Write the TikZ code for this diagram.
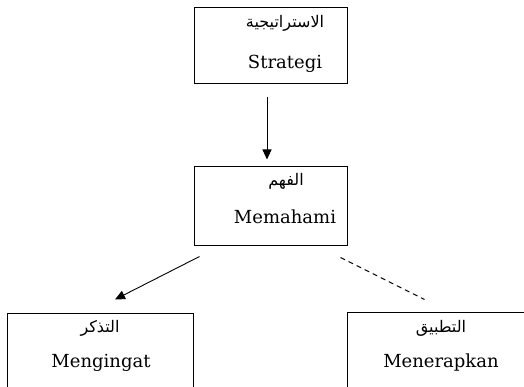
\documentclass[tikz,border=0pt]{standalone}
\usepackage{fontspec}
\setmainfont{DejaVu Serif}
\newfontfamily\arabicfont[Script=Arabic]{DejaVu Sans}
\TeXXeTstate=1
\usetikzlibrary{arrows.meta, positioning}

\begin{document}
\begin{tikzpicture}[x=1pt, y=-1pt,
		conceptbox/.style={draw, line width=1pt, inner sep=0pt},
		arlabel/.style={anchor=base, font=\fontsize{16}{18}\arabicfont},
		latlabel/.style={anchor=base, font=\fontsize{18}{21}\selectfont},
		arrow/.style={-{Triangle[length=10pt, width=9pt]}, line width=0.9pt},
		link/.style={line width=0.9pt, dash pattern=on 5pt off 4pt}
		]
		
		\useasboundingbox (0,0) rectangle (524,387);
		\clip (0,0) rectangle (524,387);
		
		% Boxes
		\node[conceptbox, minimum width=153pt, minimum height=76pt] (strategi) at (270.5, 46) {};
		\node[conceptbox, minimum width=153pt, minimum height=78pt] (memahami) at (270.5, 206) {};
		\node[conceptbox, minimum width=186pt, minimum height=100pt] (mengingat) at (100, 363) {};
		\node[conceptbox, minimum width=193pt, minimum height=100pt] (menerapkan) at (443.5, 362) {};
		
		% Labels
		\node[arlabel] (strategi-ar) at (285, 28) {\beginR الاستراتيجية\endR};
		\node[latlabel] (strategi-la) at (285, 69) {Strategi};
		\node[arlabel] (memahami-ar) at (286, 186) {\beginR الفهم\endR};
		\node[latlabel] (memahami-la) at (285, 223) {Memahami};
		\node[arlabel] (mengingat-ar) at (100, 332) {\beginR التذكر\endR};
		\node[latlabel] (mengingat-la) at (101, 367) {Mengingat};
		\node[arlabel] (menerapkan-ar) at (441, 332) {\beginR التطبيق\endR};
		\node[latlabel] (menerapkan-la) at (441, 367) {Menerapkan};
		
		% Connectors
		\draw[arrow] ([xshift=-3.5pt, yshift=-13pt]strategi.south) -- ([xshift=-3.5pt, yshift=7pt]memahami.north);
		\draw[arrow] ([xshift=6pt, yshift=-11pt]memahami.south west) -- ([xshift=15pt, yshift=13pt]mengingat.north);
		\draw[link] ([xshift=-7pt, yshift=-12pt]memahami.south east) -- ([xshift=78pt, yshift=12pt]menerapkan.north west);
		
	\end{tikzpicture}
\end{document}
